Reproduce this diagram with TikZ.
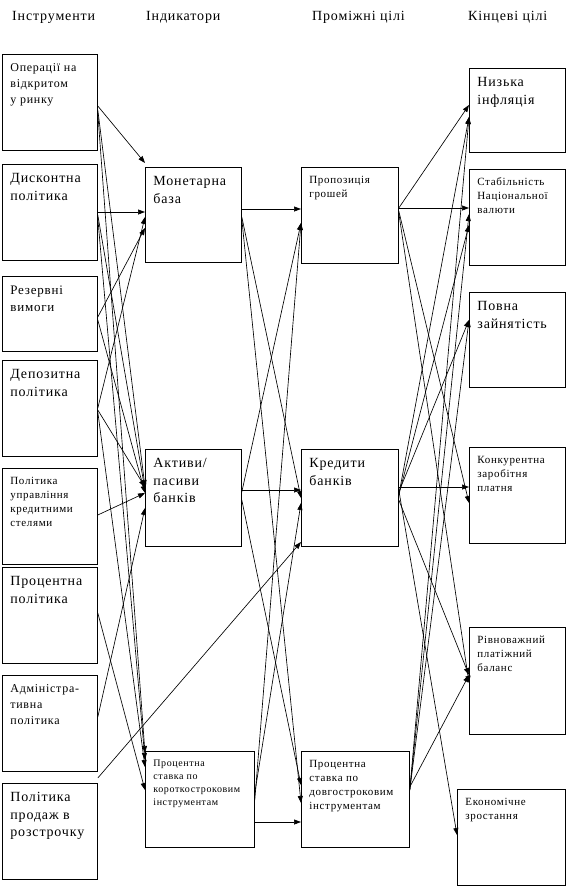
\documentclass[tikz,border=0pt]{standalone}
\usepackage{fontspec}
\setmainfont[LetterSpace=6]{Liberation Serif}
\usetikzlibrary{arrows.meta}
\newcommand{\fbig}{\fontsize{14}{17.5}\selectfont}
\newcommand{\fmid}{\fontsize{12}{16}\selectfont}
\newcommand{\fsma}{\fontsize{11}{14}\selectfont}
\newcommand{\ftiny}{\fontsize{10}{13}\selectfont}
\newcommand{\cell}[4]{\parbox[t][\dimexpr#2pt-12pt\relax][t]{\dimexpr#1pt-16pt\relax}{#3\raggedright\strut#4}}

\begin{document}
\begin{tikzpicture}[x=1pt, y=-1pt,
  b/.style={draw, line width=0.8pt, anchor=north west, inner xsep=8pt, inner ysep=6pt},
  hd/.style={anchor=base west, inner sep=0pt, font=\fontsize{14}{16}\selectfont},
  pf/.style={line width=0.65pt, -{Triangle[length=7pt,width=5pt]}}
]
\useasboundingbox (0,0) rectangle (569,887);
% column headings
\node[hd] (h1) at (12,20) {Інструменти};
\node[hd] (h2) at (146,20) {Індикатори};
\node[hd] (h3) at (312,20) {Проміжні цілі};
\node[hd] (h4) at (468,20) {Кінцеві цілі};
% instruments
\node[b] (ops) at (2,54) {\cell{95}{96}{\fmid}{Операції на\\ відкритом\\ у ринку}};
\node[b] (disc) at (2,164) {\cell{95}{96}{\fbig}{Дисконтна\\ політика}};
\node[b] (res) at (2,276) {\cell{95}{75}{\fontsize{13}{17}\selectfont}{Резервні\\ вимоги}};
\node[b] (dep) at (2,360) {\cell{95}{96}{\fbig}{Депозитна\\ політика}};
\node[b] (ceil) at (2,468) {\cell{95}{96}{\fsma}{Політика\\ управління\\ кредитними\\ стелями}};
\node[b] (rate) at (2,567) {\cell{95}{96}{\fbig}{Процентна\\ політика}};
\node[b] (adm) at (2,675) {\cell{95}{96}{\fmid}{Адміністра-\\ тивна\\ політика}};
\node[b] (inst) at (2,783) {\cell{95}{96}{\fbig}{Політика\\ продаж в\\ розстрочку}};
% indicators
\node[b] (mbase) at (145,167) {\cell{96}{95}{\fbig}{Монетарна\\ база}};
\node[b] (assets) at (145,449) {\cell{96}{97}{\fbig}{Активи/\\ пасиви\\ банків}};
\node[b] (short) at (145,751) {\cell{109}{96}{\ftiny}{Процентна\\ ставка по\\ короткостроковим\\ інструментам}};
% intermediate goals
\node[b] (supply) at (301,167) {\cell{97}{96}{\fsma}{Пропозиція\\ грошей}};
\node[b] (loans) at (301,449) {\cell{97}{97}{\fbig}{Кредити\\ банків}};
\node[b] (long) at (301,751) {\cell{108}{96}{\fsma}{Процентна\\ ставка по\\ довгостроковим\\ інструментам}};
% final goals
\node[b] (infl) at (469,68) {\cell{96}{84}{\fbig}{Низька\\ інфляція}};
\node[b] (curr) at (469,169) {\cell{96}{96}{\fsma}{Стабільність\\ Національної\\ валюти}};
\node[b] (empl) at (469,292) {\cell{96}{95}{\fbig}{Повна\\ зайнятість}};
\node[b] (wage) at (469,447) {\cell{96}{96}{\fsma}{Конкурентна\\ заробітня\\ платня}};
\node[b] (bal) at (469,627) {\cell{96}{107}{\fsma}{Рівноважний\\ платіжний\\ баланс}};
\node[b] (growth) at (457,789) {\cell{108}{96}{\fsma}{Економічне\\ зростання}};
% instruments -> indicators
\draw[pf] ([yshift=-52pt]ops.north east) -- ([yshift=4pt]mbase.north west);
\draw[pf] ([yshift=-48pt]disc.north east) -- ([yshift=-45pt]mbase.north west);
\draw[pf] ([yshift=-41pt]res.north east) -- ([yshift=-61pt]mbase.north west);
\draw[pf] ([yshift=-48pt]dep.north east) -- ([yshift=-50pt]mbase.north west);
\draw[pf] ([yshift=-56pt]ops.north east) -- ([yshift=-38pt]assets.north west);
\draw[pf] ([yshift=-51pt]disc.north east) -- ([yshift=-41pt]assets.north west);
\draw[pf] ([yshift=-44pt]res.north east) -- ([yshift=-44pt]assets.north west);
\draw[pf] ([yshift=-50pt]dep.north east) -- ([yshift=-38pt]assets.north west);
\draw[pf] ([yshift=-47pt]ceil.north east) -- ([yshift=-44pt]assets.north west);
\draw[pf] ([yshift=-42pt]adm.north east) -- ([yshift=-59pt]assets.north west);
\draw[pf] ([yshift=-59pt]ops.north east) -- ([yshift=-2pt]short.north west);
\draw[pf] ([yshift=-54pt]disc.north east) -- ([yshift=-9pt]short.north west);
\draw[pf] ([yshift=-52pt]dep.north east) -- ([yshift=-16pt]short.north west);
\draw[pf] ([yshift=-46pt]rate.north east) -- ([yshift=-39pt]short.north west);
\draw[pf] ([yshift=5pt]inst.north east) -- ([yshift=-93pt]loans.north west);
% indicators -> intermediate goals
\draw[pf] ([yshift=-42pt]mbase.north east) -- ([yshift=-42pt]supply.north west);
\draw[pf] ([yshift=-50pt]mbase.north east) -- ([yshift=-49pt]loans.north west);
\draw[pf] ([yshift=-52pt]mbase.north east) -- ([yshift=-52pt]long.north west);
\draw[pf] ([yshift=-43pt]assets.north east) -- ([yshift=-56pt]supply.north west);
\draw[pf] ([yshift=-41pt]assets.north east) -- ([yshift=-41pt]loans.north west);
\draw[pf] ([yshift=-51pt]assets.north east) -- ([yshift=-34pt]long.north west);
\draw[pf] ([yshift=-49pt]short.north east) -- ([yshift=-56pt]supply.north west);
\draw[pf] ([yshift=-42pt]short.north east) -- ([yshift=-54pt]loans.north west);
\draw[pf] ([yshift=-71pt]short.north east) -- ([yshift=-71pt]long.north west);
% intermediate goals -> final goals
\draw[pf] ([yshift=-41pt]supply.north east) -- ([yshift=-37pt]infl.north west);
\draw[pf] ([yshift=-41pt]supply.north east) -- ([yshift=-39pt]curr.north west);
\draw[pf] ([yshift=-44pt]supply.north east) -- ([yshift=-56pt]wage.north west);
\draw[pf] ([yshift=-46pt]supply.north east) -- ([yshift=-56pt]bal.north west);
\draw[pf] ([yshift=-46pt]loans.north east) -- ([yshift=-49pt]infl.north west);
\draw[pf] ([yshift=-46pt]loans.north east) -- ([yshift=-56pt]curr.north west);
\draw[pf] ([yshift=-43pt]loans.north east) -- ([yshift=-28pt]empl.north west);
\draw[pf] ([yshift=-38pt]loans.north east) -- ([yshift=-40pt]wage.north west);
\draw[pf] ([yshift=-51pt]loans.north east) -- ([yshift=-48pt]bal.north west);
\draw[pf] ([yshift=-41pt]loans.north east) -- ([yshift=-46pt]growth.north west);
\draw[pf] ([yshift=-39pt]long.north east) -- ([yshift=-49pt]infl.north west);
\draw[pf] ([yshift=-39pt]long.north east) -- ([yshift=-45pt]curr.north west);
\draw[pf] ([yshift=-39pt]long.north east) -- ([yshift=-28pt]empl.north west);
\draw[pf] ([yshift=-36pt]long.north east) -- ([yshift=-48pt]bal.north west);
\end{tikzpicture}
\end{document}
